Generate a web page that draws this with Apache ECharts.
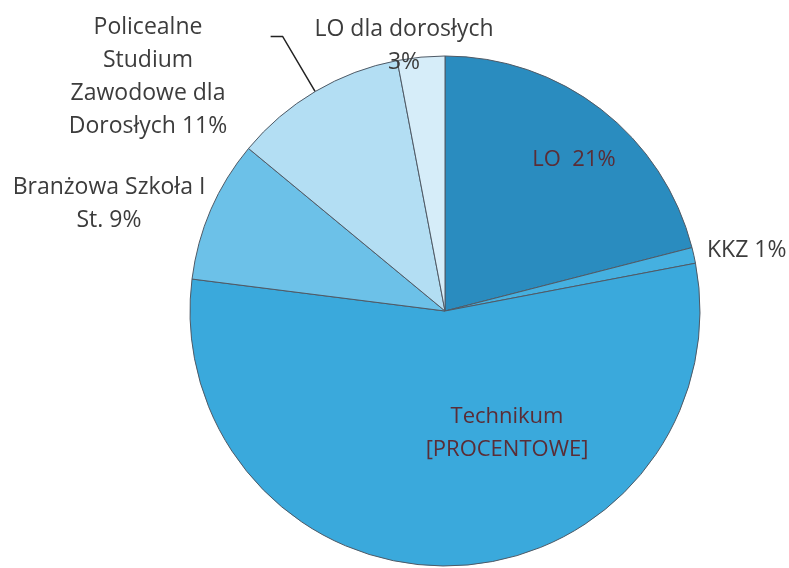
<!DOCTYPE html>
<html>
<head>
<meta charset="utf-8">
<script src="https://cdn.jsdelivr.net/npm/echarts@6/dist/echarts.min.js"></script>
<style>
html,body{margin:0;padding:0;background:#fff;}
#c{width:789px;height:568px;}
</style>
</head>
<body>
<div id="c"></div>
<script>
// ---- data ----
const categories = ['LO', 'KKZ', 'Technikum', 'Branżowa Szkoła I St.', 'Policealne Studium Zawodowe dla Dorosłych', 'LO dla dorosłych'];
const values = [21, 1, 55, 9, 11, 3];
const labelTexts = ['LO  21%', 'KKZ 1%', 'Technikum\n[PROCENTOWE]', 'Branżowa Szkoła I\nSt. 9%', 'Policealne\nStudium\nZawodowe dla\nDorosłych 11%', 'LO dla dorosłych\n3%'];

// ---- styling / layout ----
const colors = ['#2a8cbf', '#45b0e0', '#3aa9dc', '#6cc1e8', '#b3def3', '#d6edf9'];
const insideColor = '#5a2d36';
const outsideColor = '#3c3c3c';
const insideIdx = [0, 2];
const lineIdx = [4];
const labelPlacement = [
  {x: 574, y: 160, align: 'center'},
  {x: 707, y: 250, align: 'left'},
  {x: 507, y: 433, align: 'center'},
  {x: 109, y: 204, align: 'center'},
  {x: 148, y: 77, align: 'center'},
  {x: 404, y: 46, align: 'center'}
];

const seriesData = categories.map((name, i) => ({
  name: name,
  value: values[i],
  itemStyle: {color: colors[i]},
  label: {
    position: insideIdx.includes(i) ? 'inside' : 'outside',
    color: insideIdx.includes(i) ? insideColor : outsideColor,
    fontSize: insideIdx.includes(i) ? 22 : 23,
    formatter: () => labelTexts[i]
  },
  labelLine: {show: lineIdx.includes(i), length: 64, length2: 12}
}));

const chart = echarts.init(document.getElementById('c'), null, {renderer: 'canvas'});
chart.setOption({
  animation: false,
  backgroundColor: '#ffffff',
  series: [{
    type: 'pie',
    center: [445, 311],
    radius: 255,
    startAngle: 90,
    clockwise: true,
    avoidLabelOverlap: false,
    itemStyle: {borderColor: '#4f5a66', borderWidth: 1},
    label: {
      fontFamily: 'Open Sans',
      fontSize: 22,
      lineHeight: 33
    },
    labelLine: {lineStyle: {color: '#222', width: 1.5}},
    labelLayout: function (p) {
      const pl = labelPlacement[p.dataIndex];
      return {
        x: pl.x, y: pl.y, align: pl.align, verticalAlign: 'middle',
        labelLinePoints: p.labelLinePoints
      };
    },
    data: seriesData
  }]
});
</script>
</body>
</html>
